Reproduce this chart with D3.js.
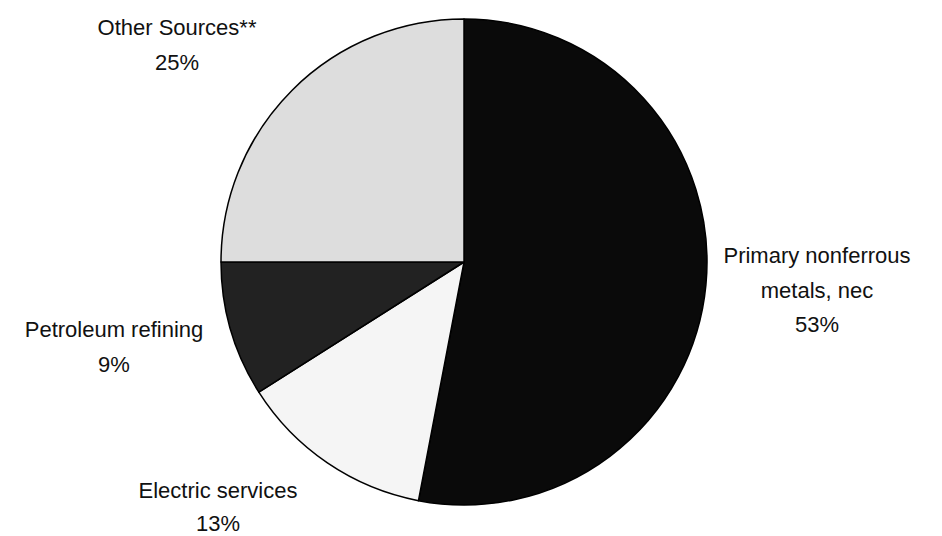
<!DOCTYPE html>
<html>
<head>
<meta charset="utf-8">
<script src="https://cdn.jsdelivr.net/npm/d3@7"></script>
<style>
  html, body { margin: 0; padding: 0; background: #ffffff; }
  svg { display: block; }
  text { font-family: "Liberation Sans", Arial, sans-serif; font-size: 22px; fill: #111; }
</style>
</head>
<body>
<svg id="chart" width="942" height="536"></svg>
<script>
// Data
const categories = ["Primary nonferrous metals, nec", "Electric services", "Petroleum refining", "Other Sources**"];
const labelLines = [["Primary nonferrous", "metals, nec"], ["Electric services"], ["Petroleum refining"], ["Other Sources**"]];
const values = [53, 13, 9, 25];

// Style / layout
const colors = ["#0a0a0a", "#f5f5f5", "#222222", "#dddddd"];
const W = 942, H = 536;
const cx = 464, cy = 262, R = 243;
// label offsets relative to pie centre: [text centre x, first baseline y]
const labelOffsets = [[353, 1], [-246, 236], [-350, 75], [-287, -227]];
const lineH = 34.5;
const lastLineH = [34.5, 33, 34.5, 34.5];

const svg = d3.select("#chart");
const g = svg.append("g").attr("transform", `translate(${cx},${cy})`);

const pie = d3.pie().sort(null).value(d => d);
const arc = d3.arc().innerRadius(0).outerRadius(R);
const arcs = pie(values);

g.selectAll("path.slice")
  .data(arcs)
  .join("path")
  .attr("class", "slice")
  .attr("d", arc)
  .attr("fill", (d, i) => colors[i])
  .attr("stroke", "#000")
  .attr("stroke-width", 1.5)
  .attr("stroke-linejoin", "round");

const total = d3.sum(values);
const labels = g.selectAll("text.lbl")
  .data(arcs)
  .join("text")
  .attr("class", "lbl")
  .attr("text-anchor", "middle");

labels.each(function(d, i) {
  const t = d3.select(this);
  const lines = labelLines[i].concat([Math.round(d.value / total * 100) + "%"]);
  const [ox, oy] = labelOffsets[i];
  let y = oy;
  lines.forEach((ln, k) => {
    if (k > 0) y += (k === lines.length - 1 ? lastLineH[i] : lineH);
    t.append("tspan")
      .attr("x", ox)
      .attr("y", y)
      .text(ln);
  });
});
</script>
</body>
</html>
